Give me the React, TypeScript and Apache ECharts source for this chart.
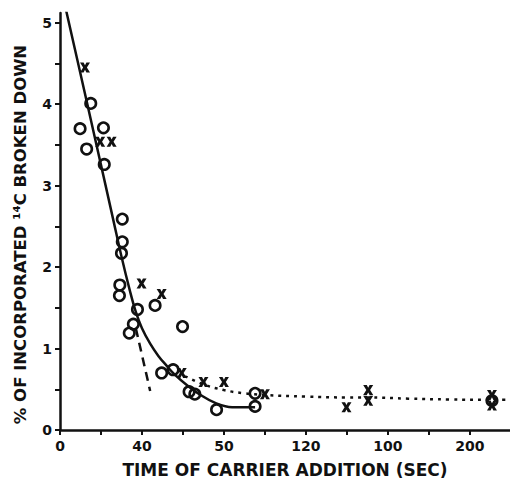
import React, { useEffect, useRef } from "react";
import * as echarts from "echarts";

// x values are positions along the broken time axis, in tick steps (tick i sits at index i)
const xTickLabels = ["0", "", "40", "", "50", "", "120", "", "100", "", "200"];
const yTickValues = [0, 0.5, 1, 1.5, 2, 2.5, 3, 3.5, 4, 4.5, 5];
const yLabelValues = [0, 1, 2, 3, 4, 5];

const circleX = [0.75, 0.49, 0.65, 1.06, 1.08, 1.52, 1.52, 1.5, 1.46, 1.45, 2.32, 1.89, 1.79, 1.69, 2.99, 2.48, 2.76, 3.15, 3.29, 3.82, 4.76, 4.76, 10.54];
const circleY = [4.01, 3.7, 3.45, 3.71, 3.26, 2.59, 2.31, 2.17, 1.78, 1.65, 1.53, 1.48, 1.3, 1.19, 1.27, 0.7, 0.74, 0.47, 0.44, 0.25, 0.45, 0.29, 0.36];

const crossX = [0.61, 0.98, 1.26, 1.99, 2.48, 2.97, 3.5, 4.0, 5.0, 6.99, 7.52, 7.52, 10.54, 10.54];
const crossY = [4.45, 3.54, 3.54, 1.8, 1.67, 0.7, 0.59, 0.59, 0.44, 0.28, 0.49, 0.36, 0.43, 0.3];

const solidX = [0.15, 0.6, 1.06, 1.3, 1.5, 1.7, 1.85, 2.0, 2.2, 2.4, 2.6, 2.8, 3.1, 3.4, 3.8, 4.2, 4.76];
const solidY = [5.15, 4.15, 3.12, 2.58, 2.13, 1.72, 1.45, 1.25, 1.06, 0.91, 0.79, 0.68, 0.55, 0.44, 0.33, 0.28, 0.28];

const dashedX = [1.85, 2.2];
const dashedY = [1.25, 0.48];

const dottedX = [3.05, 3.5, 4.0, 4.5, 5.0, 6.0, 7.0, 7.5, 8.5, 9.5, 10.5, 10.98];
const dottedY = [0.66, 0.56, 0.49, 0.45, 0.43, 0.41, 0.4, 0.4, 0.385, 0.375, 0.37, 0.37];

const ink = "#111";
const font = "DejaVu Sans";

const zip = (xs: number[], ys: number[]) => xs.map((x, i) => [x, ys[i]]);

const crossPath =
  "path://M0,0 L3.6,0 L5,2.7 L6.4,0 L10,0 L6.9,5 L10,10 L6.4,10 L5,7.3 L3.6,10 L0,10 L3.1,5 Z";

export default function App() {
  const ref = useRef<HTMLDivElement>(null);
  useEffect(() => {
    if (!ref.current) return;
    const chart = echarts.init(ref.current, null, { renderer: "svg" });
    chart.setOption({
      animation: false,
      backgroundColor: "#fff",
      grid: { left: 60, right: 0, top: 13, bottom: 48 },
      xAxis: {
        type: "value",
        min: 0,
        max: 10.98,
        interval: 1,
        splitLine: { show: false },
        axisLine: { lineStyle: { color: ink, width: 2.5 } },
        axisTick: {
          inside: false,
          length: 5,
          lineStyle: { color: ink, width: 2 },
          customValues: xTickLabels.map((_, i) => i),
        },
        axisLabel: {
          customValues: xTickLabels.map((l, i) => (l ? i : -1)).filter((v) => v >= 0),
          formatter: (v: number) => xTickLabels[Math.round(v)] ?? "",
          color: ink,
          fontFamily: font,
          fontWeight: "bold",
          fontSize: 14,
          margin: 9,
        },
        name: "TIME OF CARRIER ADDITION (SEC)",
        nameLocation: "middle",
        nameGap: 31,
        nameTextStyle: { color: ink, fontFamily: font, fontWeight: "bold", fontSize: 17 },
      },
      yAxis: {
        type: "value",
        min: 0,
        max: 5.12,
        interval: 0.5,
        splitLine: { show: false },
        axisLine: { lineStyle: { color: ink, width: 2.5 } },
        axisTick: {
          length: 5,
          lineStyle: { color: ink, width: 2 },
          customValues: yTickValues,
        },
        axisLabel: {
          customValues: yLabelValues,
          color: ink,
          fontFamily: font,
          fontWeight: "bold",
          fontSize: 14,
          margin: 8,
        },
        name: "% OF INCORPORATED ¹⁴C BROKEN DOWN",
        nameLocation: "middle",
        nameRotate: 90,
        nameGap: 31,
        nameTextStyle: {
          color: ink,
          fontFamily: font,
          fontWeight: "bold",
          fontSize: 16.5,
          padding: [0, 26, 0, 0],
        },
      },
      series: [
        {
          type: "line",
          data: zip(solidX, solidY),
          smooth: 0.4,
          showSymbol: false,
          lineStyle: { color: ink, width: 2.5 },
        },
        {
          type: "line",
          data: zip(dashedX, dashedY),
          showSymbol: false,
          lineStyle: { color: ink, width: 2.5, type: [9, 6] },
        },
        {
          type: "line",
          data: zip(dottedX, dottedY),
          smooth: 0.4,
          showSymbol: false,
          lineStyle: { color: ink, width: 2.5, type: [3, 5] },
        },
        {
          type: "scatter",
          data: zip(circleX, circleY),
          symbol: "circle",
          symbolSize: 10.5,
          itemStyle: { color: "rgba(0,0,0,0)", borderColor: ink, borderWidth: 2.6, opacity: 1 },
        },
        {
          type: "scatter",
          data: zip(crossX, crossY),
          symbol: crossPath,
          symbolSize: [10, 10],
          itemStyle: { color: ink, opacity: 1 },
        },
      ],
    });
    return () => chart.dispose();
  }, []);
  return (
    <div
      ref={ref}
      style={{ position: "absolute", left: 0, top: 0, width: 510, height: 483 }}
    />
  );
}
